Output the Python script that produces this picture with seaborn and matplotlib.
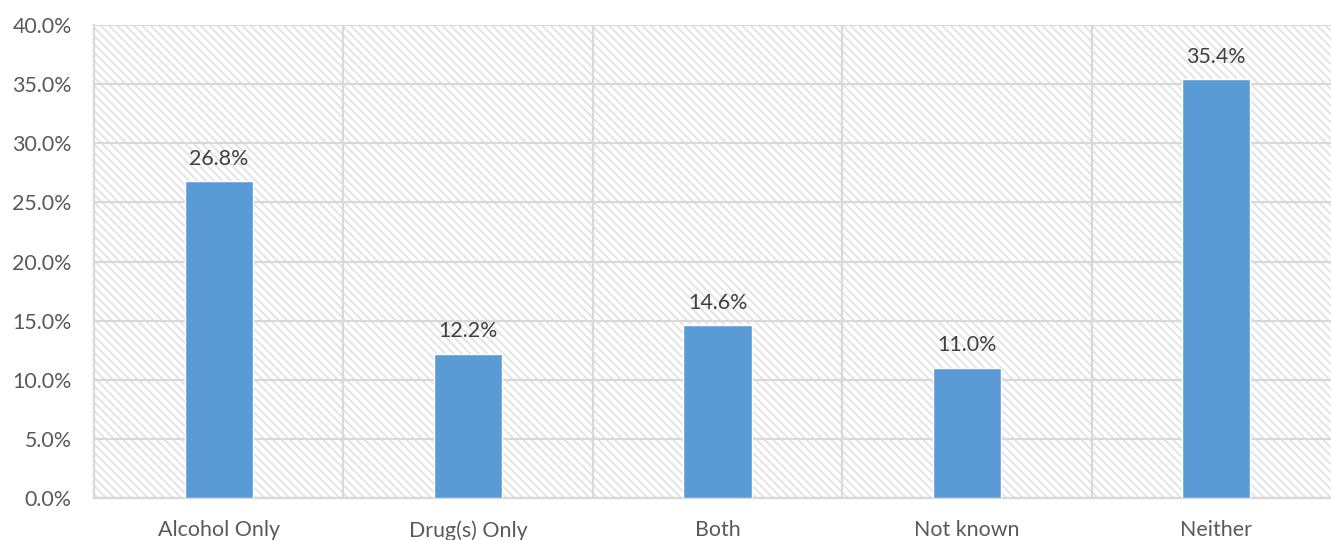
import matplotlib
matplotlib.use("Agg")
import matplotlib.pyplot as plt
from matplotlib.patches import Rectangle
from matplotlib.ticker import FuncFormatter, MultipleLocator, FixedLocator
import seaborn as sns

categories = ["Alcohol Only", "Drug(s) Only", "Both", "Not known", "Neither"]
values = [26.8, 12.2, 14.6, 11.0, 35.4]
label_texts = ["26.8%", "12.2%", "14.6%", "11.0%", "35.4%"]

sns.set_theme(style="white")
plt.rcParams["font.family"] = ["Lato", "DejaVu Sans"]
plt.rcParams["hatch.linewidth"] = 1.3

BAR_COLOR = "#5B9BD5"
GRID_COLOR = "#D9D9D9"
TEXT_COLOR = "#595959"

fig = plt.figure(figsize=(13.31, 5.40), dpi=100)
ax = fig.add_axes([94 / 1331, 42 / 540, 1247 / 1331, 473 / 540])

sns.barplot(x=categories, y=values, color=BAR_COLOR, width=0.273,
            saturation=1, ax=ax, zorder=3)

# hatched plot-area background
ax.add_patch(Rectangle((0, 0), 1, 1, transform=ax.transAxes,
                       facecolor="white", edgecolor="#E2E2E2",
                       hatch="\\" * 4, linewidth=0, zorder=0))

ax.set_xlim(-0.5, len(categories) - 0.5)
ax.set_ylim(0, 40)
ax.yaxis.set_major_locator(MultipleLocator(5))
ax.yaxis.set_major_formatter(FuncFormatter(lambda v, p: f"{v:.1f}%"))
ax.xaxis.set_minor_locator(FixedLocator([i + 0.5 for i in range(len(categories))]))

ax.grid(axis="y", which="major", color=GRID_COLOR, linewidth=1.6, zorder=1)
ax.grid(axis="x", which="minor", color=GRID_COLOR, linewidth=1.6, zorder=1)
ax.set_axisbelow(False)

for side in ["top", "right"]:
    ax.spines[side].set_visible(False)
for side in ["left", "bottom"]:
    ax.spines[side].set_color(GRID_COLOR)
    ax.spines[side].set_linewidth(1.6)
    ax.spines[side].set_zorder(2)

ax.tick_params(axis="both", which="both", length=0, labelsize=15.4,
               labelcolor=TEXT_COLOR)
ax.tick_params(axis="y", pad=16)
ax.tick_params(axis="x", pad=16)
ax.set_xlabel("")
ax.set_ylabel("")

ax.bar_label(ax.containers[0], labels=label_texts, padding=9,
             fontsize=15.4, color="#404040", zorder=4)

fig.savefig("out.png", dpi=100)
